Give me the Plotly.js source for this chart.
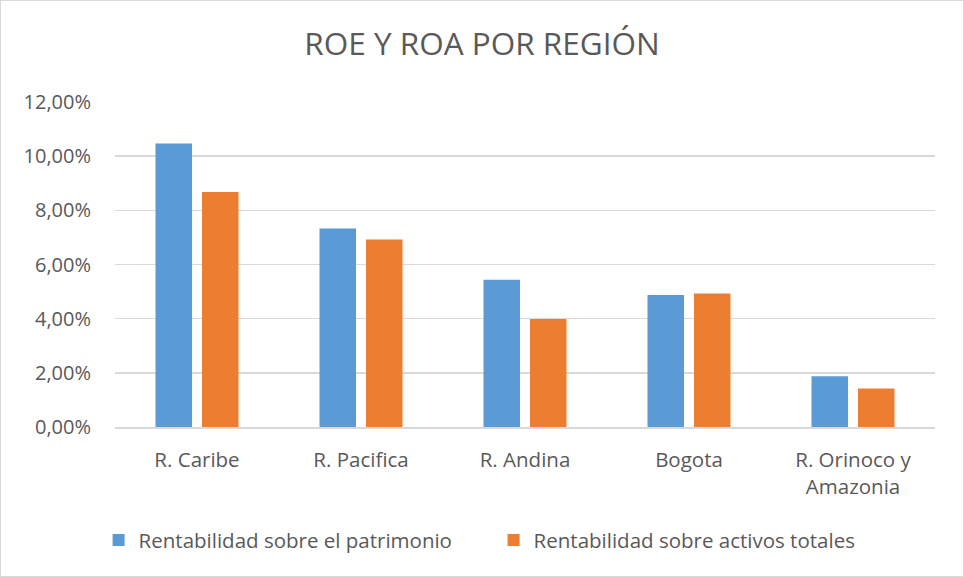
<!DOCTYPE html>
<html>
<head>
<meta charset="utf-8">
<script src="https://cdn.plot.ly/plotly-3.0.1.min.js"></script>
<style>
html,body{margin:0;padding:0;background:#fff;}
#chart{width:962px;height:575px;border:1px solid #d9d9d9;}
</style>
</head>
<body>
<div id="chart"></div>
<script>
var categories = ["R. Caribe", "R. Pacifica", "R. Andina", "Bogota", "R. Orinoco y<br>Amazonia"];
var roeValues = [0.1047, 0.0733, 0.0544, 0.0487, 0.0187];
var roaValues = [0.0868, 0.0692, 0.0399, 0.0493, 0.0142];
var seriesNames = ["Rentabilidad sobre el patrimonio", "Rentabilidad sobre activos totales"];
var tickValues = [0, 0.02, 0.04, 0.06, 0.08, 0.10, 0.12];

var font = "Open Sans, sans-serif";
var textColor = "#595959";

var data = [
  {type: "bar", name: seriesNames[0], x: categories, y: roeValues,
   marker: {color: "#5B9BD5"}, hoverinfo: "y"},
  {type: "bar", name: seriesNames[1], x: categories, y: roaValues,
   marker: {color: "#ED7D31"}, hoverinfo: "y"}
];

var layout = {
  width: 962, height: 575,
  margin: {l: 114, r: 28, t: 101, b: 149},
  paper_bgcolor: "#fff", plot_bgcolor: "#fff",
  separators: ",.",
  font: {family: font, color: textColor, size: 20},
  title: {text: "ROE Y ROA POR REGIÓN", x: 0.5, xanchor: "center", y: 0.925, yanchor: "middle",
          font: {family: font, size: 31.5, color: textColor}},
  barmode: "group",
  bargap: 0.433,
  bargroupgap: 0.215,
  xaxis: {tickfont: {size: 20.5, color: textColor}, showline: true, linecolor: "#d9d9d9", linewidth: 1.5,
          ticks: "", ticklabelstandoff: 14, fixedrange: true},
  yaxis: {range: [0, 0.12], tickvals: tickValues, tickformat: ".2%", showgrid: true,
          gridcolor: "#d9d9d9", gridwidth: 1.5, zeroline: false, showline: false,
          tickfont: {size: 20, color: textColor}, ticklabelstandoff: 23, fixedrange: true},
  legend: {orientation: "h", x: -0.02, xanchor: "left", y: -0.348, yanchor: "middle",
           font: {size: 20.5, color: textColor}, entrywidth: 350, entrywidthmode: "pixels",
           itemwidth: 30, tracegroupgap: 0}
};

Plotly.newPlot("chart", data, layout, {displayModeBar: false, staticPlot: true});
</script>
</body>
</html>
